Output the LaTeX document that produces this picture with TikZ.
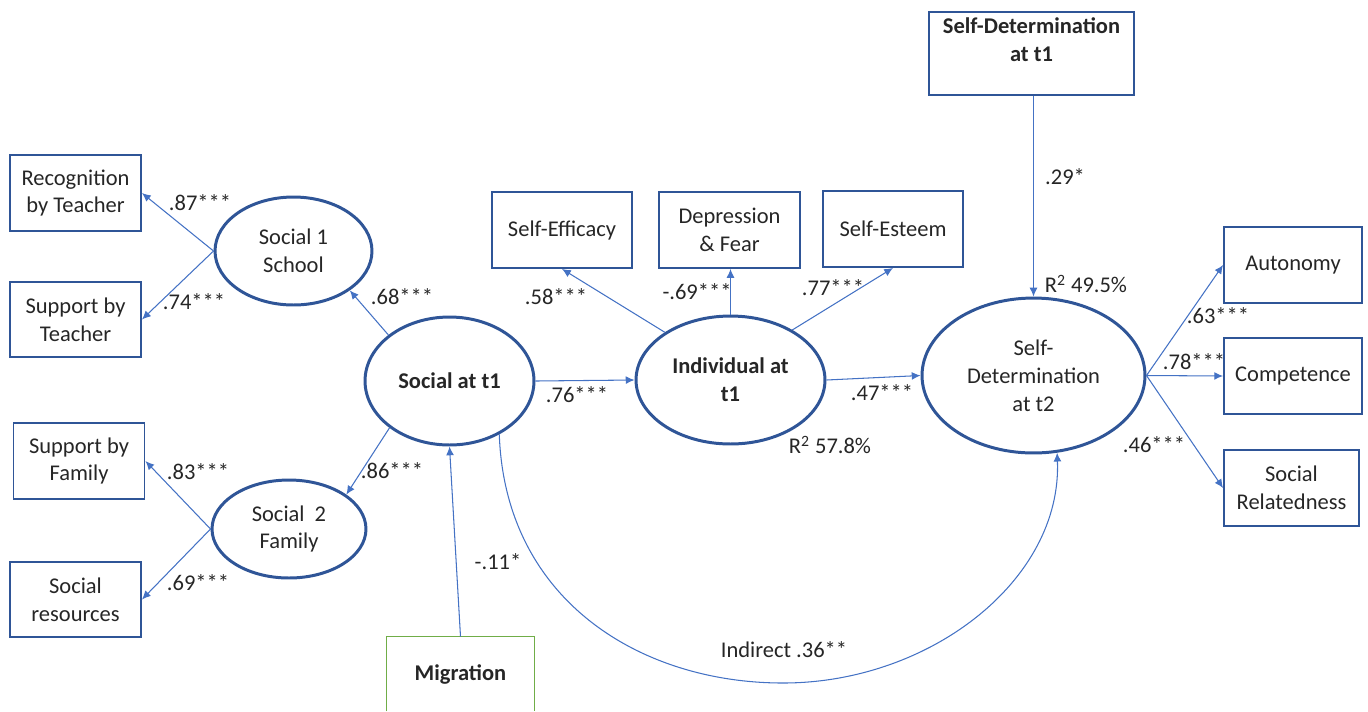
\documentclass[tikz,border=0pt]{standalone}
\usepackage{fontspec}
\setmainfont{Carlito}
\usetikzlibrary{shapes.geometric,arrows.meta}
\definecolor{nodeblue}{HTML}{2F5597}
\definecolor{arrblue}{HTML}{4472C4}
\definecolor{miggreen}{HTML}{70AD47}
\definecolor{txt}{HTML}{262626}
\newcommand\myfs{\fontsize{12.8}{15.9}\selectfont}
\begin{document}
\begin{tikzpicture}[x=0.02cm,y=-0.02cm,
  every node/.style={font=\myfs, text=txt},
  bf/.style={font=\myfs\bfseries},
  box/.style={draw=nodeblue, line width=1.1pt, align=center, inner sep=0pt},
  lat/.style={ellipse, draw=nodeblue, line width=1.7pt, align=center, inner sep=0pt},
  conn/.style={draw=arrblue, line width=0.6pt, -{Latex[length=5pt,width=4.5pt]}},
  lbl/.style={inner sep=0pt}
]
\useasboundingbox (0,0) rectangle (1368,711);

% indicator boxes (left)
\node[box, minimum width=2.62cm, minimum height=1.52cm] (rec) at (75.5,193) {Recognition\\by Teacher};
\node[box, minimum width=2.62cm, minimum height=1.50cm] (supt) at (75.5,319.5) {Support by\\Teacher};
\node[box, minimum width=2.62cm, minimum height=1.52cm] (supf) at (79,461) {Support by\\Family};
\node[box, minimum width=2.62cm, minimum height=1.50cm] (sres) at (75.5,599.5) {Social\\resources};

% latent variables
\node[lat, minimum width=3.14cm, minimum height=2.16cm] (s1) at (293.5,251) {Social 1\\School};
\node[lat, minimum width=3.08cm, minimum height=1.96cm] (s2) at (289,529) {Social~~2\\Family};
\node[lat, bf, minimum width=3.38cm, minimum height=2.56cm] (sot1) at (449.5,381) {Social at t1};
\node[lat, bf, minimum width=3.78cm, minimum height=2.56cm] (ind) at (730.5,380) {Individual at\\t1};
\node[lat, minimum width=4.46cm, minimum height=3.10cm] (sdt2) at (1033.5,375.5) {Self-\\Determination\\at t2};

% top boxes
\node[box, minimum width=2.80cm, minimum height=1.52cm] (seff) at (562,230) {Self-Efficacy};
\node[box, minimum width=2.82cm, minimum height=1.52cm] (dep) at (729.5,230) {Depression\\\& Fear};
\node[box, minimum width=2.80cm, minimum height=1.52cm] (sest) at (893,229) {Self-Esteem};

% Self-Determination at t1
\node[box, minimum width=4.10cm, minimum height=1.66cm] (sdt1) at (1031.5,53.5) {};
\node[lbl, bf, align=center, anchor=north] (sdt1t) at (1031.5,17) {Self-Determination\\at t1};

% right boxes
\node[box, minimum width=2.76cm, minimum height=1.52cm] (aut) at (1293,265) {Autonomy};
\node[box, minimum width=2.76cm, minimum height=1.52cm] (comp) at (1293,376) {Competence};
\node[box, minimum width=2.70cm, minimum height=1.52cm] (srel) at (1291.5,488) {Social\\Relatedness};

% Migration
\node[bf, inner sep=0pt, minimum width=2.94cm, minimum height=1.48cm] (mig) at (460.5,674) {Migration};
\draw[miggreen, line width=0.8pt] (mig.south west) -- (mig.north west) -- (mig.north east) -- (mig.south east);

% connectors
\draw[conn] (s1.west) -- (rec.east);
\draw[conn] (s1.west) -- (supt.east);
\draw[conn] (sot1.143) -- (s1.-35);
\draw[conn] (sot1.218) -- (s2.31);
\draw[conn] (s2.west) -- (supf.east);
\draw[conn] (s2.west) -- (sres.east);
\draw[conn] (mig.north) -- (sot1.south);
\draw[conn] (sot1.east) -- (ind.west);
\draw[conn] (ind.144) -- (seff.south);
\draw[conn] (ind.north) -- (ind.north |- dep.south);
\draw[conn] (ind.39) -- (sest.south);
\draw[conn] (ind.east) -- (sdt2.west);
\draw[conn] (sdt1.south -| sdt2.north) -- (sdt2.north);
\draw[conn] (sdt2.east) -- (aut.west);
\draw[conn] (sdt2.east) -- (comp.west);
\draw[conn] (sdt2.east) -- (srel.west);
\draw[conn] (sot1.-47) .. controls (505,600) and (640,683) .. (783,683)
  .. controls (930,683) and (1062,580) .. (sdt2.-73);

% labels
\node[lbl] (l87) at (200,203) {.87***};
\node[lbl] (l74) at (194,302) {.74***};
\node[lbl] (l68) at (402,297) {.68***};
\node[lbl] (l83) at (198,472) {.83***};
\node[lbl] (l69) at (198,583) {.69***};
\node[lbl] (l86) at (392,471) {.86***};
\node[lbl] (l11) at (498,562) {-.11*};
\node[lbl] (l76) at (577,395) {.76***};
\node[lbl] (l58) at (556,297) {.58***};
\node[lbl] (l69b) at (697,292) {-.69***};
\node[lbl] (l77) at (833,288) {.77***};
\node[lbl] (l47) at (882,393) {.47***};
\node[lbl] (r578) at (830,445) {R\textsuperscript{2} 57.8\%};
\node[lbl] (l29) at (1065,177) {.29*};
\node[lbl] (r495) at (1086,284) {R\textsuperscript{2} 49.5\%};
\node[lbl] (l63) at (1218,316) {.63***};
\node[lbl] (l78) at (1194,362) {.78***};
\node[lbl] (l46) at (1154,445) {.46***};
\node[lbl] (lind) at (784,650) {Indirect .36**};
\end{tikzpicture}
\end{document}
